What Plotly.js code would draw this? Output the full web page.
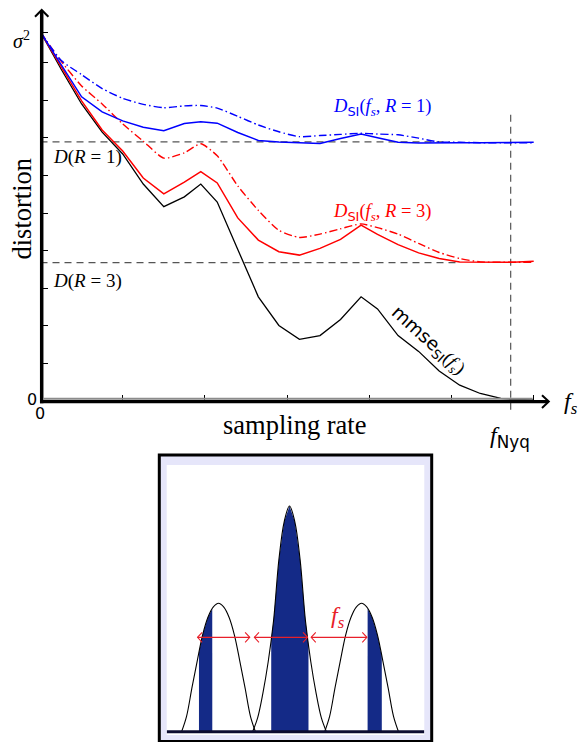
<!DOCTYPE html>
<html><head><meta charset="utf-8">
<script src="https://cdn.plot.ly/plotly-3.0.1.min.js"></script>
<style>html,body{margin:0;padding:0;background:#fff}</style>
</head><body><div id="chart" style="width:585px;height:742px"></div>
<script>
// ---------------- data (top chart) ----------------
const samplingRate = [0,0.25,0.5,0.75,1.0,1.25,1.5,1.75,1.95,2.15,2.4,2.65,2.9,3.15,3.4,3.65,3.9,4.1,4.35,4.6,4.85,5.1,5.35,5.6,5.75,6.0];
const mmseSI       = [9.81,8.83,7.90,7.15,6.57,5.77,5.17,5.43,5.77,5.29,4.03,2.77,2.01,1.64,1.74,2.17,2.77,2.45,1.74,1.32,0.80,0.42,0.20,0.07,0.04,0.03];
const dSI_R3       = [9.81,8.88,7.98,7.21,6.65,5.93,5.51,5.82,6.10,5.80,4.87,4.28,3.97,3.88,4.06,4.30,4.68,4.43,4.16,3.94,3.79,3.70,3.69,3.69,3.69,3.72];
const dSI_R3_alt   = [9.81,9.04,8.38,7.90,7.37,6.91,6.46,6.60,6.84,6.52,5.72,5.07,4.54,4.35,4.44,4.58,4.71,4.61,4.44,4.19,3.95,3.79,3.70,3.69,3.69,3.69];
const dSI_R1       = [9.81,8.94,8.09,7.69,7.45,7.28,7.19,7.38,7.43,7.39,7.14,6.93,6.89,6.87,6.85,6.98,7.10,7.00,6.88,6.86,6.87,6.87,6.87,6.87,6.87,6.88];
const dSI_R1_alt   = [9.81,9.06,8.68,8.31,8.05,7.89,7.80,7.85,7.86,7.79,7.57,7.34,7.16,7.03,7.06,7.09,7.12,7.10,7.08,6.99,6.89,6.88,6.87,6.87,6.87,6.87];
const rateLevels   = [1, 3];
const distortionAtRate = [6.89, 3.68];
const levelLineEnd = [4.98, 5.05];
const fNyq = 5.72;
const nyqLineTop = 7.61;
const xTicks = [1,2,3,4,5,6];
const yTicks = [1,2,3,4,5,6,7,8,9,9.81];

// ---------------- data (inset spectrum) ----------------
const lobeOffset  = [-1.04,-0.9,-0.75,-0.6,-0.45,-0.3,-0.15,0,0.15,0.3,0.45,0.6,0.75,0.9,1.04];
const centerLobe  = [0,0.06,0.17,0.31,0.49,0.76,0.93,1.0,0.93,0.76,0.49,0.31,0.17,0.06,0];
const sideLobe    = [0,0.068,0.193,0.313,0.427,0.506,0.552,0.569,0.552,0.506,0.427,0.313,0.193,0.068,0];
const lobeCenters = [-2.0, 0, 2.03];
const fillBands   = [[-2.55,-2.175],[-0.515,0.535],[2.2,2.6]];
const arrowStart  = [-2.59,-0.99,0.61];
const arrowEnd    = [-1.12,0.51,2.18];
const arrowLevel  = 0.418;

// ---------------- helpers ----------------
const W = 585, H = 742;
const P = (px, py) => [px / W, 1 - py / H];
const SERIF = 'Liberation Serif, Times New Roman, serif';
const SANS = 'DejaVu Sans';

const traces = [];
const dashGray = {color:'#555', width:1.2, dash:'7px,5px'};
rateLevels.forEach((r, i) => {
  traces.push({x:[0, levelLineEnd[i]], y:[distortionAtRate[i], distortionAtRate[i]], mode:'lines', line:dashGray, xaxis:'x', yaxis:'y', hoverinfo:'skip'});
});
traces.push({x:[fNyq, fNyq], y:[nyqLineTop, -0.3], mode:'lines', line:dashGray, xaxis:'x', yaxis:'y', hoverinfo:'skip'});

traces.push({x:samplingRate, y:mmseSI, mode:'lines', line:{color:'#000', width:1.3}, xaxis:'x', yaxis:'y'});
traces.push({x:samplingRate, y:dSI_R3, mode:'lines', line:{color:'red', width:1.5}, xaxis:'x', yaxis:'y'});
traces.push({x:samplingRate, y:dSI_R3_alt, mode:'lines', line:{color:'red', width:1.4, dash:'8px,3px,1.5px,3px', shape:'spline', smoothing:0.6}, xaxis:'x', yaxis:'y'});
traces.push({x:samplingRate, y:dSI_R1, mode:'lines', line:{color:'blue', width:1.5}, xaxis:'x', yaxis:'y'});
traces.push({x:samplingRate, y:dSI_R1_alt, mode:'lines', line:{color:'blue', width:1.4, dash:'8px,3px,1.5px,3px', shape:'spline', smoothing:0.6}, xaxis:'x', yaxis:'y'});

// inset
function lobe(k) {
  const xs = lobeOffset.map(o => lobeCenters[k] + o);
  const ys = k === 1 ? centerLobe : sideLobe;
  return [xs, ys];
}
function interp(xs, ys, x) {
  for (let i = 0; i < xs.length - 1; i++) {
    if (x >= xs[i] && x <= xs[i + 1]) {
      const t = (x - xs[i]) / (xs[i + 1] - xs[i]);
      return ys[i] + t * (ys[i + 1] - ys[i]);
    }
  }
  return 0;
}
const FILL = '#142a87';
fillBands.forEach((b, k) => {
  const [xs, ys] = lobe(k);
  const fx = [b[0], b[0]], fy = [0, interp(xs, ys, b[0])];
  xs.forEach((x, i) => { if (x > b[0] && x < b[1]) { fx.push(x); fy.push(ys[i]); } });
  fx.push(b[1], b[1]); fy.push(interp(xs, ys, b[1]), 0);
  traces.push({x:fx, y:fy, mode:'lines', fill:'toself', fillcolor:FILL, line:{width:0, color:FILL}, xaxis:'x2', yaxis:'y2', hoverinfo:'skip'});
});
[0,1,2].forEach(k => {
  const [xs, ys] = lobe(k);
  traces.push({x:xs, y:ys, mode:'lines', line:{color:'#000', width:1.1, shape:'spline', smoothing:1}, xaxis:'x2', yaxis:'y2', hoverinfo:'skip'});
});

// ---------------- shapes ----------------
const shapes = [];
function pline(a, b, color, width) {
  const p0 = P(a[0], a[1]), p1 = P(b[0], b[1]);
  return {type:'line', xref:'paper', yref:'paper', x0:p0[0], y0:p0[1], x1:p1[0], y1:p1[1], line:{color, width}};
}
function ppath(pts, color, width) {
  const d = pts.map((p, i) => { const q = P(p[0], p[1]); return (i ? 'L' : 'M') + q[0] + ',' + q[1]; }).join(' ');
  return {type:'path', xref:'paper', yref:'paper', path:d, line:{color, width}};
}
// inset frame
const o0 = P(159.3, 455), o1 = P(431.7, 741.5);
shapes.push({type:'rect', xref:'paper', yref:'paper', layer:'below', x0:o0[0], y0:o0[1], x1:o1[0], y1:o1[1], fillcolor:'#e6e6fa', line:{color:'#000', width:3}});
const i0 = P(166.7, 465), i1 = P(424.3, 735);
shapes.push({type:'rect', xref:'paper', yref:'paper', layer:'below', x0:i0[0], y0:i0[1], x1:i1[0], y1:i1[1], fillcolor:'#fff', line:{width:0}});
// main axes
shapes.push(pline([41.7, 403.3], [41.7, 10.8], '#000', 3.5));
shapes.push(ppath([[35, 16.8], [41.7, 10], [48.4, 16.8]], '#000', 2));
shapes.push(pline([43, 398.8], [532.7, 398.8], '#8c8c8c', 2));
shapes.push(pline([40, 401.6], [548, 401.6], '#000', 3.3));
shapes.push(ppath([[542, 395.2], [548.8, 401.6], [542, 408]], '#000', 2));
// inset baseline
shapes.push({type:'line', xref:'x2', yref:'y2', x0:-3.46, x1:3.8, y0:0, y1:0, line:{color:'#0c0c30', width:3}});
// inset double arrows
const adx = 0.13, ady = 0.022;
arrowStart.forEach((s, i) => {
  const e = arrowEnd[i], y = arrowLevel;
  shapes.push({type:'line', xref:'x2', yref:'y2', x0:s, x1:e, y0:y, y1:y, line:{color:'#e8202a', width:1.1}});
  shapes.push({type:'path', xref:'x2', yref:'y2', path:`M${e-adx},${y+ady} L${e},${y} L${e-adx},${y-ady}`, line:{color:'#e8202a', width:1.1}});
  shapes.push({type:'path', xref:'x2', yref:'y2', path:`M${s+adx},${y+ady} L${s},${y} L${s+adx},${y-ady}`, line:{color:'#e8202a', width:1.1}});
});

// ---------------- annotations ----------------
const anns = [];
function ann(text, px, py, size, opts) {
  const p = P(px, py);
  return Object.assign({text, x:p[0], y:p[1], xref:'paper', yref:'paper', showarrow:false, xanchor:'center', yanchor:'middle',
    font:{family:SERIF, size, color:'#000'}}, opts || {});
}
const sansSpan = t => `<span style="font-family:${SANS}">${t}</span>`;
anns.push(ann('<i>σ</i><sup>2</sup>', 21, 40, 20));
anns.push(ann('distortion', 21.5, 209, 26.5, {textangle:-90}));
anns.push(ann('<i>D</i>(<i>R</i> = ' + rateLevels[0] + ')', 51, 157, 19, {xanchor:'left'}));
anns.push(ann('<i>D</i>(<i>R</i> = ' + rateLevels[1] + ')', 51, 281, 19, {xanchor:'left'}));
anns.push(ann('0', 31.5, 400, 16, {font:{family:SANS, size:16, color:'#000'}}));
anns.push(ann('0', 39.5, 413, 16, {font:{family:SANS, size:16, color:'#000'}}));
anns.push(ann('sampling rate', 295, 425, 26.5));
anns.push(ann('<i>f<sub>s</sub></i>', 571, 403, 24));
anns.push(ann('<i>f</i><sub>' + sansSpan('Nyq') + '</sub>', 510, 437, 24));
anns.push(ann('<i>D</i><sub>' + sansSpan('SI') + '</sub>(<i>f<sub>s</sub></i>, <i>R</i> = ' + rateLevels[0] + ')', 382, 107, 18.5, {font:{family:SERIF, size:18.5, color:'blue'}}));
anns.push(ann('<i>D</i><sub>' + sansSpan('SI') + '</sub>(<i>f<sub>s</sub></i>, <i>R</i> = ' + rateLevels[1] + ')', 382, 213, 18.5, {font:{family:SERIF, size:18.5, color:'red'}}));
anns.push(ann(sansSpan('mmse') + '<sub>' + sansSpan('SI') + '</sub>(<i>f<sub>s</sub></i>)', 428, 341, 18.5, {textangle:42}));
anns.push(ann('<i>f<sub>s</sub></i>', 338, 617, 24, {font:{family:SERIF, size:24, color:'#e8202a'}}));

// ---------------- layout ----------------
const axOff = {showgrid:false, zeroline:false, showline:false};
const layout = {
  width:W, height:H, margin:{l:0, r:0, t:0, b:0},
  paper_bgcolor:'#fff', plot_bgcolor:'rgba(0,0,0,0)', showlegend:false,
  xaxis: Object.assign({}, axOff, {domain:[40.5/W, 549/W], range:[0, 508.5/82.2], anchor:'free', position:1-401/H,
    tickvals:xTicks, ticks:'inside', ticklen:6, tickwidth:1, tickcolor:'#000', showticklabels:false}),
  yaxis: Object.assign({}, axOff, {domain:[1-412.28/H, 1-10/H], range:[-0.3, 10.399], anchor:'free', position:41.7/W,
    tickvals:yTicks, ticks:'inside', ticklen:5, tickwidth:1, tickcolor:'#000', showticklabels:false}),
  xaxis2: Object.assign({}, axOff, {domain:[166.7/W, 424.3/W], range:[-3.459, 3.797], anchor:'y2', visible:false}),
  yaxis2: Object.assign({}, axOff, {domain:[1-735/H, 1-465/H], range:[-0.0146, 1.1817], anchor:'x2', visible:false}),
  shapes, annotations:anns
};
Plotly.newPlot('chart', traces, layout, {staticPlot:true, displayModeBar:false});
</script></body></html>
